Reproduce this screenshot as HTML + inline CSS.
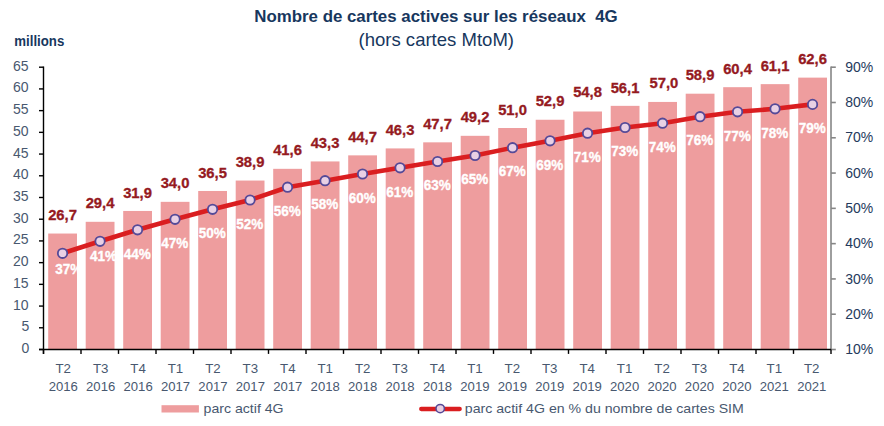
<!DOCTYPE html><html><head><meta charset="utf-8"><style>html,body{margin:0;padding:0;background:#fff;width:884px;height:426px;overflow:hidden}svg{display:block}text{font-family:"Liberation Sans",sans-serif}</style></head><body>
<svg width="884" height="426" viewBox="0 0 884 426">
<rect width="884" height="426" fill="#fff"/>
<text x="254.3" y="22" font-size="16" font-weight="bold" fill="#17375E" textLength="331.5" lengthAdjust="spacingAndGlyphs">Nombre de cartes actives sur les réseaux</text>
<text x="595.2" y="22" font-size="16" font-weight="bold" fill="#17375E" textLength="22.6" lengthAdjust="spacingAndGlyphs">4G</text>
<text x="358.5" y="45.8" font-size="18.5" fill="#17375E" textLength="155.5" lengthAdjust="spacingAndGlyphs">(hors cartes MtoM)</text>
<text x="14.3" y="45.6" font-size="13.8" font-weight="bold" fill="#17375E" textLength="50" lengthAdjust="spacingAndGlyphs">millions</text>
<rect x="48.20" y="233.54" width="28.80" height="115.96" fill="#EE9D9E"/>
<rect x="85.70" y="221.81" width="28.80" height="127.69" fill="#EE9D9E"/>
<rect x="123.20" y="210.96" width="28.80" height="138.54" fill="#EE9D9E"/>
<rect x="160.70" y="201.84" width="28.80" height="147.66" fill="#EE9D9E"/>
<rect x="198.20" y="190.98" width="28.80" height="158.52" fill="#EE9D9E"/>
<rect x="235.70" y="180.55" width="28.80" height="168.95" fill="#EE9D9E"/>
<rect x="273.20" y="168.83" width="28.80" height="180.67" fill="#EE9D9E"/>
<rect x="310.70" y="161.44" width="28.80" height="188.06" fill="#EE9D9E"/>
<rect x="348.20" y="155.36" width="28.80" height="194.14" fill="#EE9D9E"/>
<rect x="385.70" y="148.42" width="28.80" height="201.08" fill="#EE9D9E"/>
<rect x="423.20" y="142.34" width="28.80" height="207.16" fill="#EE9D9E"/>
<rect x="460.70" y="135.82" width="28.80" height="213.68" fill="#EE9D9E"/>
<rect x="498.20" y="128.00" width="28.80" height="221.50" fill="#EE9D9E"/>
<rect x="535.70" y="119.75" width="28.80" height="229.75" fill="#EE9D9E"/>
<rect x="573.20" y="111.50" width="28.80" height="238.00" fill="#EE9D9E"/>
<rect x="610.70" y="105.85" width="28.80" height="243.65" fill="#EE9D9E"/>
<rect x="648.20" y="101.94" width="28.80" height="247.56" fill="#EE9D9E"/>
<rect x="685.70" y="93.69" width="28.80" height="255.81" fill="#EE9D9E"/>
<rect x="723.20" y="87.18" width="28.80" height="262.32" fill="#EE9D9E"/>
<rect x="760.70" y="84.14" width="28.80" height="265.36" fill="#EE9D9E"/>
<rect x="798.20" y="77.62" width="28.80" height="271.88" fill="#EE9D9E"/>
<line x1="831.00" y1="66.5" x2="831.00" y2="349.5" stroke="#868686" stroke-width="1.6"/>
<line x1="831.00" y1="349.50" x2="835.80" y2="349.50" stroke="#868686" stroke-width="1.6"/>
<text x="845.3" y="354.10" font-size="14.6" fill="#243A5C" textLength="28" lengthAdjust="spacingAndGlyphs">10%</text>
<line x1="831.00" y1="314.21" x2="835.80" y2="314.21" stroke="#868686" stroke-width="1.6"/>
<text x="845.3" y="318.81" font-size="14.6" fill="#243A5C" textLength="28" lengthAdjust="spacingAndGlyphs">20%</text>
<line x1="831.00" y1="278.93" x2="835.80" y2="278.93" stroke="#868686" stroke-width="1.6"/>
<text x="845.3" y="283.53" font-size="14.6" fill="#243A5C" textLength="28" lengthAdjust="spacingAndGlyphs">30%</text>
<line x1="831.00" y1="243.64" x2="835.80" y2="243.64" stroke="#868686" stroke-width="1.6"/>
<text x="845.3" y="248.24" font-size="14.6" fill="#243A5C" textLength="28" lengthAdjust="spacingAndGlyphs">40%</text>
<line x1="831.00" y1="208.35" x2="835.80" y2="208.35" stroke="#868686" stroke-width="1.6"/>
<text x="845.3" y="212.95" font-size="14.6" fill="#243A5C" textLength="28" lengthAdjust="spacingAndGlyphs">50%</text>
<line x1="831.00" y1="173.06" x2="835.80" y2="173.06" stroke="#868686" stroke-width="1.6"/>
<text x="845.3" y="177.66" font-size="14.6" fill="#243A5C" textLength="28" lengthAdjust="spacingAndGlyphs">60%</text>
<line x1="831.00" y1="137.78" x2="835.80" y2="137.78" stroke="#868686" stroke-width="1.6"/>
<text x="845.3" y="142.38" font-size="14.6" fill="#243A5C" textLength="28" lengthAdjust="spacingAndGlyphs">70%</text>
<line x1="831.00" y1="102.49" x2="835.80" y2="102.49" stroke="#868686" stroke-width="1.6"/>
<text x="845.3" y="107.09" font-size="14.6" fill="#243A5C" textLength="28" lengthAdjust="spacingAndGlyphs">80%</text>
<line x1="831.00" y1="67.20" x2="835.80" y2="67.20" stroke="#868686" stroke-width="1.6"/>
<text x="845.3" y="71.80" font-size="14.6" fill="#243A5C" textLength="28" lengthAdjust="spacingAndGlyphs">90%</text>
<line x1="43.5" y1="66.5" x2="43.5" y2="353.9" stroke="#000" stroke-width="1.4"/>
<line x1="39.0" y1="349.5" x2="831.0" y2="349.5" stroke="#000" stroke-width="1.4"/>
<line x1="39.0" y1="349.50" x2="43.5" y2="349.50" stroke="#000" stroke-width="1.4"/>
<text x="21.60" y="353.00" font-size="15.3" fill="#48586F" textLength="7.8" lengthAdjust="spacingAndGlyphs">0</text>
<line x1="39.0" y1="327.78" x2="43.5" y2="327.78" stroke="#000" stroke-width="1.4"/>
<text x="21.60" y="331.28" font-size="15.3" fill="#48586F" textLength="7.8" lengthAdjust="spacingAndGlyphs">5</text>
<line x1="39.0" y1="306.07" x2="43.5" y2="306.07" stroke="#000" stroke-width="1.4"/>
<text x="13.00" y="309.57" font-size="15.3" fill="#48586F" textLength="15.6" lengthAdjust="spacingAndGlyphs">10</text>
<line x1="39.0" y1="284.35" x2="43.5" y2="284.35" stroke="#000" stroke-width="1.4"/>
<text x="13.00" y="287.85" font-size="15.3" fill="#48586F" textLength="15.6" lengthAdjust="spacingAndGlyphs">15</text>
<line x1="39.0" y1="262.64" x2="43.5" y2="262.64" stroke="#000" stroke-width="1.4"/>
<text x="13.00" y="266.14" font-size="15.3" fill="#48586F" textLength="15.6" lengthAdjust="spacingAndGlyphs">20</text>
<line x1="39.0" y1="240.92" x2="43.5" y2="240.92" stroke="#000" stroke-width="1.4"/>
<text x="13.00" y="244.42" font-size="15.3" fill="#48586F" textLength="15.6" lengthAdjust="spacingAndGlyphs">25</text>
<line x1="39.0" y1="219.21" x2="43.5" y2="219.21" stroke="#000" stroke-width="1.4"/>
<text x="13.00" y="222.71" font-size="15.3" fill="#48586F" textLength="15.6" lengthAdjust="spacingAndGlyphs">30</text>
<line x1="39.0" y1="197.49" x2="43.5" y2="197.49" stroke="#000" stroke-width="1.4"/>
<text x="13.00" y="200.99" font-size="15.3" fill="#48586F" textLength="15.6" lengthAdjust="spacingAndGlyphs">35</text>
<line x1="39.0" y1="175.78" x2="43.5" y2="175.78" stroke="#000" stroke-width="1.4"/>
<text x="13.00" y="179.28" font-size="15.3" fill="#48586F" textLength="15.6" lengthAdjust="spacingAndGlyphs">40</text>
<line x1="39.0" y1="154.06" x2="43.5" y2="154.06" stroke="#000" stroke-width="1.4"/>
<text x="13.00" y="157.56" font-size="15.3" fill="#48586F" textLength="15.6" lengthAdjust="spacingAndGlyphs">45</text>
<line x1="39.0" y1="132.35" x2="43.5" y2="132.35" stroke="#000" stroke-width="1.4"/>
<text x="13.00" y="135.85" font-size="15.3" fill="#48586F" textLength="15.6" lengthAdjust="spacingAndGlyphs">50</text>
<line x1="39.0" y1="110.63" x2="43.5" y2="110.63" stroke="#000" stroke-width="1.4"/>
<text x="13.00" y="114.13" font-size="15.3" fill="#48586F" textLength="15.6" lengthAdjust="spacingAndGlyphs">55</text>
<line x1="39.0" y1="88.92" x2="43.5" y2="88.92" stroke="#000" stroke-width="1.4"/>
<text x="13.00" y="92.42" font-size="15.3" fill="#48586F" textLength="15.6" lengthAdjust="spacingAndGlyphs">60</text>
<line x1="39.0" y1="67.20" x2="43.5" y2="67.20" stroke="#000" stroke-width="1.4"/>
<text x="13.00" y="70.70" font-size="15.3" fill="#48586F" textLength="15.6" lengthAdjust="spacingAndGlyphs">65</text>
<line x1="43.50" y1="349.5" x2="43.50" y2="353.9" stroke="#000" stroke-width="1.4"/>
<line x1="81.00" y1="349.5" x2="81.00" y2="353.9" stroke="#000" stroke-width="1.4"/>
<line x1="118.50" y1="349.5" x2="118.50" y2="353.9" stroke="#000" stroke-width="1.4"/>
<line x1="156.00" y1="349.5" x2="156.00" y2="353.9" stroke="#000" stroke-width="1.4"/>
<line x1="193.50" y1="349.5" x2="193.50" y2="353.9" stroke="#000" stroke-width="1.4"/>
<line x1="231.00" y1="349.5" x2="231.00" y2="353.9" stroke="#000" stroke-width="1.4"/>
<line x1="268.50" y1="349.5" x2="268.50" y2="353.9" stroke="#000" stroke-width="1.4"/>
<line x1="306.00" y1="349.5" x2="306.00" y2="353.9" stroke="#000" stroke-width="1.4"/>
<line x1="343.50" y1="349.5" x2="343.50" y2="353.9" stroke="#000" stroke-width="1.4"/>
<line x1="381.00" y1="349.5" x2="381.00" y2="353.9" stroke="#000" stroke-width="1.4"/>
<line x1="418.50" y1="349.5" x2="418.50" y2="353.9" stroke="#000" stroke-width="1.4"/>
<line x1="456.00" y1="349.5" x2="456.00" y2="353.9" stroke="#000" stroke-width="1.4"/>
<line x1="493.50" y1="349.5" x2="493.50" y2="353.9" stroke="#000" stroke-width="1.4"/>
<line x1="531.00" y1="349.5" x2="531.00" y2="353.9" stroke="#000" stroke-width="1.4"/>
<line x1="568.50" y1="349.5" x2="568.50" y2="353.9" stroke="#000" stroke-width="1.4"/>
<line x1="606.00" y1="349.5" x2="606.00" y2="353.9" stroke="#000" stroke-width="1.4"/>
<line x1="643.50" y1="349.5" x2="643.50" y2="353.9" stroke="#000" stroke-width="1.4"/>
<line x1="681.00" y1="349.5" x2="681.00" y2="353.9" stroke="#000" stroke-width="1.4"/>
<line x1="718.50" y1="349.5" x2="718.50" y2="353.9" stroke="#000" stroke-width="1.4"/>
<line x1="756.00" y1="349.5" x2="756.00" y2="353.9" stroke="#000" stroke-width="1.4"/>
<line x1="793.50" y1="349.5" x2="793.50" y2="353.9" stroke="#000" stroke-width="1.4"/>
<line x1="831.00" y1="349.5" x2="831.00" y2="353.9" stroke="#000" stroke-width="1.4"/>
<text x="63.25" y="372.7" font-size="13.3" fill="#48586F" text-anchor="middle">T2</text>
<text x="63.25" y="390.6" font-size="13.3" fill="#48586F" text-anchor="middle" textLength="29.2" lengthAdjust="spacingAndGlyphs">2016</text>
<text x="100.67" y="372.7" font-size="13.3" fill="#48586F" text-anchor="middle">T3</text>
<text x="100.67" y="390.6" font-size="13.3" fill="#48586F" text-anchor="middle" textLength="29.2" lengthAdjust="spacingAndGlyphs">2016</text>
<text x="138.10" y="372.7" font-size="13.3" fill="#48586F" text-anchor="middle">T4</text>
<text x="138.10" y="390.6" font-size="13.3" fill="#48586F" text-anchor="middle" textLength="29.2" lengthAdjust="spacingAndGlyphs">2016</text>
<text x="175.52" y="372.7" font-size="13.3" fill="#48586F" text-anchor="middle">T1</text>
<text x="175.52" y="390.6" font-size="13.3" fill="#48586F" text-anchor="middle" textLength="29.2" lengthAdjust="spacingAndGlyphs">2017</text>
<text x="212.95" y="372.7" font-size="13.3" fill="#48586F" text-anchor="middle">T2</text>
<text x="212.95" y="390.6" font-size="13.3" fill="#48586F" text-anchor="middle" textLength="29.2" lengthAdjust="spacingAndGlyphs">2017</text>
<text x="250.38" y="372.7" font-size="13.3" fill="#48586F" text-anchor="middle">T3</text>
<text x="250.38" y="390.6" font-size="13.3" fill="#48586F" text-anchor="middle" textLength="29.2" lengthAdjust="spacingAndGlyphs">2017</text>
<text x="287.80" y="372.7" font-size="13.3" fill="#48586F" text-anchor="middle">T4</text>
<text x="287.80" y="390.6" font-size="13.3" fill="#48586F" text-anchor="middle" textLength="29.2" lengthAdjust="spacingAndGlyphs">2017</text>
<text x="325.22" y="372.7" font-size="13.3" fill="#48586F" text-anchor="middle">T1</text>
<text x="325.22" y="390.6" font-size="13.3" fill="#48586F" text-anchor="middle" textLength="29.2" lengthAdjust="spacingAndGlyphs">2018</text>
<text x="362.65" y="372.7" font-size="13.3" fill="#48586F" text-anchor="middle">T2</text>
<text x="362.65" y="390.6" font-size="13.3" fill="#48586F" text-anchor="middle" textLength="29.2" lengthAdjust="spacingAndGlyphs">2018</text>
<text x="400.07" y="372.7" font-size="13.3" fill="#48586F" text-anchor="middle">T3</text>
<text x="400.07" y="390.6" font-size="13.3" fill="#48586F" text-anchor="middle" textLength="29.2" lengthAdjust="spacingAndGlyphs">2018</text>
<text x="437.50" y="372.7" font-size="13.3" fill="#48586F" text-anchor="middle">T4</text>
<text x="437.50" y="390.6" font-size="13.3" fill="#48586F" text-anchor="middle" textLength="29.2" lengthAdjust="spacingAndGlyphs">2018</text>
<text x="474.92" y="372.7" font-size="13.3" fill="#48586F" text-anchor="middle">T1</text>
<text x="474.92" y="390.6" font-size="13.3" fill="#48586F" text-anchor="middle" textLength="29.2" lengthAdjust="spacingAndGlyphs">2019</text>
<text x="512.35" y="372.7" font-size="13.3" fill="#48586F" text-anchor="middle">T2</text>
<text x="512.35" y="390.6" font-size="13.3" fill="#48586F" text-anchor="middle" textLength="29.2" lengthAdjust="spacingAndGlyphs">2019</text>
<text x="549.77" y="372.7" font-size="13.3" fill="#48586F" text-anchor="middle">T3</text>
<text x="549.77" y="390.6" font-size="13.3" fill="#48586F" text-anchor="middle" textLength="29.2" lengthAdjust="spacingAndGlyphs">2019</text>
<text x="587.20" y="372.7" font-size="13.3" fill="#48586F" text-anchor="middle">T4</text>
<text x="587.20" y="390.6" font-size="13.3" fill="#48586F" text-anchor="middle" textLength="29.2" lengthAdjust="spacingAndGlyphs">2019</text>
<text x="624.62" y="372.7" font-size="13.3" fill="#48586F" text-anchor="middle">T1</text>
<text x="624.62" y="390.6" font-size="13.3" fill="#48586F" text-anchor="middle" textLength="29.2" lengthAdjust="spacingAndGlyphs">2020</text>
<text x="662.05" y="372.7" font-size="13.3" fill="#48586F" text-anchor="middle">T2</text>
<text x="662.05" y="390.6" font-size="13.3" fill="#48586F" text-anchor="middle" textLength="29.2" lengthAdjust="spacingAndGlyphs">2020</text>
<text x="699.47" y="372.7" font-size="13.3" fill="#48586F" text-anchor="middle">T3</text>
<text x="699.47" y="390.6" font-size="13.3" fill="#48586F" text-anchor="middle" textLength="29.2" lengthAdjust="spacingAndGlyphs">2020</text>
<text x="736.90" y="372.7" font-size="13.3" fill="#48586F" text-anchor="middle">T4</text>
<text x="736.90" y="390.6" font-size="13.3" fill="#48586F" text-anchor="middle" textLength="29.2" lengthAdjust="spacingAndGlyphs">2020</text>
<text x="774.32" y="372.7" font-size="13.3" fill="#48586F" text-anchor="middle">T1</text>
<text x="774.32" y="390.6" font-size="13.3" fill="#48586F" text-anchor="middle" textLength="29.2" lengthAdjust="spacingAndGlyphs">2021</text>
<text x="811.75" y="372.7" font-size="13.3" fill="#48586F" text-anchor="middle">T2</text>
<text x="811.75" y="390.6" font-size="13.3" fill="#48586F" text-anchor="middle" textLength="29.2" lengthAdjust="spacingAndGlyphs">2021</text>
<text x="62.55" y="220.14" font-size="14" font-weight="bold" fill="#951A1F" stroke="#951A1F" stroke-width="0.3" text-anchor="middle" textLength="28.8" lengthAdjust="spacingAndGlyphs">26,7</text>
<text x="100.05" y="208.41" font-size="14" font-weight="bold" fill="#951A1F" stroke="#951A1F" stroke-width="0.3" text-anchor="middle" textLength="28.8" lengthAdjust="spacingAndGlyphs">29,4</text>
<text x="137.55" y="197.56" font-size="14" font-weight="bold" fill="#951A1F" stroke="#951A1F" stroke-width="0.3" text-anchor="middle" textLength="28.8" lengthAdjust="spacingAndGlyphs">31,9</text>
<text x="175.05" y="188.44" font-size="14" font-weight="bold" fill="#951A1F" stroke="#951A1F" stroke-width="0.3" text-anchor="middle" textLength="28.8" lengthAdjust="spacingAndGlyphs">34,0</text>
<text x="212.55" y="177.58" font-size="14" font-weight="bold" fill="#951A1F" stroke="#951A1F" stroke-width="0.3" text-anchor="middle" textLength="28.8" lengthAdjust="spacingAndGlyphs">36,5</text>
<text x="250.05" y="167.15" font-size="14" font-weight="bold" fill="#951A1F" stroke="#951A1F" stroke-width="0.3" text-anchor="middle" textLength="28.8" lengthAdjust="spacingAndGlyphs">38,9</text>
<text x="287.55" y="155.43" font-size="14" font-weight="bold" fill="#951A1F" stroke="#951A1F" stroke-width="0.3" text-anchor="middle" textLength="28.8" lengthAdjust="spacingAndGlyphs">41,6</text>
<text x="325.05" y="148.04" font-size="14" font-weight="bold" fill="#951A1F" stroke="#951A1F" stroke-width="0.3" text-anchor="middle" textLength="28.8" lengthAdjust="spacingAndGlyphs">43,3</text>
<text x="362.55" y="141.96" font-size="14" font-weight="bold" fill="#951A1F" stroke="#951A1F" stroke-width="0.3" text-anchor="middle" textLength="28.8" lengthAdjust="spacingAndGlyphs">44,7</text>
<text x="400.05" y="135.02" font-size="14" font-weight="bold" fill="#951A1F" stroke="#951A1F" stroke-width="0.3" text-anchor="middle" textLength="28.8" lengthAdjust="spacingAndGlyphs">46,3</text>
<text x="437.55" y="128.94" font-size="14" font-weight="bold" fill="#951A1F" stroke="#951A1F" stroke-width="0.3" text-anchor="middle" textLength="28.8" lengthAdjust="spacingAndGlyphs">47,7</text>
<text x="475.05" y="122.42" font-size="14" font-weight="bold" fill="#951A1F" stroke="#951A1F" stroke-width="0.3" text-anchor="middle" textLength="28.8" lengthAdjust="spacingAndGlyphs">49,2</text>
<text x="512.55" y="114.60" font-size="14" font-weight="bold" fill="#951A1F" stroke="#951A1F" stroke-width="0.3" text-anchor="middle" textLength="28.8" lengthAdjust="spacingAndGlyphs">51,0</text>
<text x="550.05" y="106.35" font-size="14" font-weight="bold" fill="#951A1F" stroke="#951A1F" stroke-width="0.3" text-anchor="middle" textLength="28.8" lengthAdjust="spacingAndGlyphs">52,9</text>
<text x="587.55" y="97.30" font-size="14" font-weight="bold" fill="#951A1F" stroke="#951A1F" stroke-width="0.3" text-anchor="middle" textLength="28.8" lengthAdjust="spacingAndGlyphs">54,8</text>
<text x="625.05" y="93.45" font-size="14" font-weight="bold" fill="#951A1F" stroke="#951A1F" stroke-width="0.3" text-anchor="middle" textLength="28.8" lengthAdjust="spacingAndGlyphs">56,1</text>
<text x="663.95" y="87.84" font-size="14" font-weight="bold" fill="#951A1F" stroke="#951A1F" stroke-width="0.3" text-anchor="middle" textLength="28.8" lengthAdjust="spacingAndGlyphs">57,0</text>
<text x="700.05" y="80.29" font-size="14" font-weight="bold" fill="#951A1F" stroke="#951A1F" stroke-width="0.3" text-anchor="middle" textLength="28.8" lengthAdjust="spacingAndGlyphs">58,9</text>
<text x="737.55" y="73.78" font-size="14" font-weight="bold" fill="#951A1F" stroke="#951A1F" stroke-width="0.3" text-anchor="middle" textLength="28.8" lengthAdjust="spacingAndGlyphs">60,4</text>
<text x="775.05" y="70.74" font-size="14" font-weight="bold" fill="#951A1F" stroke="#951A1F" stroke-width="0.3" text-anchor="middle" textLength="28.8" lengthAdjust="spacingAndGlyphs">61,1</text>
<text x="812.55" y="64.22" font-size="14" font-weight="bold" fill="#951A1F" stroke="#951A1F" stroke-width="0.3" text-anchor="middle" textLength="28.8" lengthAdjust="spacingAndGlyphs">62,6</text>
<polyline points="62.55,253.30 100.05,241.30 137.55,229.80 175.05,219.30 212.55,209.30 250.05,200.00 287.55,187.20 325.05,180.70 362.55,174.00 400.05,167.80 437.55,161.50 475.05,155.50 512.55,147.70 550.05,140.80 587.55,133.20 625.05,127.50 662.55,123.20 700.05,116.70 737.55,111.80 775.05,108.80 812.55,104.40" fill="none" stroke="#DA1E20" stroke-width="4.6" stroke-linejoin="round" stroke-linecap="round"/>
<circle cx="62.55" cy="253.30" r="4.7" fill="#E9D0E4" stroke="#554A98" stroke-width="1.8"/>
<circle cx="100.05" cy="241.30" r="4.7" fill="#E9D0E4" stroke="#554A98" stroke-width="1.8"/>
<circle cx="137.55" cy="229.80" r="4.7" fill="#E9D0E4" stroke="#554A98" stroke-width="1.8"/>
<circle cx="175.05" cy="219.30" r="4.7" fill="#E9D0E4" stroke="#554A98" stroke-width="1.8"/>
<circle cx="212.55" cy="209.30" r="4.7" fill="#E9D0E4" stroke="#554A98" stroke-width="1.8"/>
<circle cx="250.05" cy="200.00" r="4.7" fill="#E9D0E4" stroke="#554A98" stroke-width="1.8"/>
<circle cx="287.55" cy="187.20" r="4.7" fill="#E9D0E4" stroke="#554A98" stroke-width="1.8"/>
<circle cx="325.05" cy="180.70" r="4.7" fill="#E9D0E4" stroke="#554A98" stroke-width="1.8"/>
<circle cx="362.55" cy="174.00" r="4.7" fill="#E9D0E4" stroke="#554A98" stroke-width="1.8"/>
<circle cx="400.05" cy="167.80" r="4.7" fill="#E9D0E4" stroke="#554A98" stroke-width="1.8"/>
<circle cx="437.55" cy="161.50" r="4.7" fill="#E9D0E4" stroke="#554A98" stroke-width="1.8"/>
<circle cx="475.05" cy="155.50" r="4.7" fill="#E9D0E4" stroke="#554A98" stroke-width="1.8"/>
<circle cx="512.55" cy="147.70" r="4.7" fill="#E9D0E4" stroke="#554A98" stroke-width="1.8"/>
<circle cx="550.05" cy="140.80" r="4.7" fill="#E9D0E4" stroke="#554A98" stroke-width="1.8"/>
<circle cx="587.55" cy="133.20" r="4.7" fill="#E9D0E4" stroke="#554A98" stroke-width="1.8"/>
<circle cx="625.05" cy="127.50" r="4.7" fill="#E9D0E4" stroke="#554A98" stroke-width="1.8"/>
<circle cx="662.55" cy="123.20" r="4.7" fill="#E9D0E4" stroke="#554A98" stroke-width="1.8"/>
<circle cx="700.05" cy="116.70" r="4.7" fill="#E9D0E4" stroke="#554A98" stroke-width="1.8"/>
<circle cx="737.55" cy="111.80" r="4.7" fill="#E9D0E4" stroke="#554A98" stroke-width="1.8"/>
<circle cx="775.05" cy="108.80" r="4.7" fill="#E9D0E4" stroke="#554A98" stroke-width="1.8"/>
<circle cx="812.55" cy="104.40" r="4.7" fill="#E9D0E4" stroke="#554A98" stroke-width="1.8"/>
<text x="68.65" y="273.90" font-size="14.5" font-weight="bold" fill="#fff" stroke="#fff" stroke-width="0.35" text-anchor="middle" textLength="27" lengthAdjust="spacingAndGlyphs">37%</text>
<text x="103.55" y="260.70" font-size="14.5" font-weight="bold" fill="#fff" stroke="#fff" stroke-width="0.35" text-anchor="middle" textLength="27" lengthAdjust="spacingAndGlyphs">41%</text>
<text x="137.25" y="258.50" font-size="14.5" font-weight="bold" fill="#fff" stroke="#fff" stroke-width="0.35" text-anchor="middle" textLength="27" lengthAdjust="spacingAndGlyphs">44%</text>
<text x="174.75" y="248.00" font-size="14.5" font-weight="bold" fill="#fff" stroke="#fff" stroke-width="0.35" text-anchor="middle" textLength="27" lengthAdjust="spacingAndGlyphs">47%</text>
<text x="212.25" y="238.00" font-size="14.5" font-weight="bold" fill="#fff" stroke="#fff" stroke-width="0.35" text-anchor="middle" textLength="27" lengthAdjust="spacingAndGlyphs">50%</text>
<text x="249.75" y="228.70" font-size="14.5" font-weight="bold" fill="#fff" stroke="#fff" stroke-width="0.35" text-anchor="middle" textLength="27" lengthAdjust="spacingAndGlyphs">52%</text>
<text x="287.25" y="215.90" font-size="14.5" font-weight="bold" fill="#fff" stroke="#fff" stroke-width="0.35" text-anchor="middle" textLength="27" lengthAdjust="spacingAndGlyphs">56%</text>
<text x="324.75" y="209.40" font-size="14.5" font-weight="bold" fill="#fff" stroke="#fff" stroke-width="0.35" text-anchor="middle" textLength="27" lengthAdjust="spacingAndGlyphs">58%</text>
<text x="362.25" y="202.70" font-size="14.5" font-weight="bold" fill="#fff" stroke="#fff" stroke-width="0.35" text-anchor="middle" textLength="27" lengthAdjust="spacingAndGlyphs">60%</text>
<text x="399.75" y="196.50" font-size="14.5" font-weight="bold" fill="#fff" stroke="#fff" stroke-width="0.35" text-anchor="middle" textLength="27" lengthAdjust="spacingAndGlyphs">61%</text>
<text x="437.25" y="190.20" font-size="14.5" font-weight="bold" fill="#fff" stroke="#fff" stroke-width="0.35" text-anchor="middle" textLength="27" lengthAdjust="spacingAndGlyphs">63%</text>
<text x="474.75" y="184.20" font-size="14.5" font-weight="bold" fill="#fff" stroke="#fff" stroke-width="0.35" text-anchor="middle" textLength="27" lengthAdjust="spacingAndGlyphs">65%</text>
<text x="512.25" y="176.40" font-size="14.5" font-weight="bold" fill="#fff" stroke="#fff" stroke-width="0.35" text-anchor="middle" textLength="27" lengthAdjust="spacingAndGlyphs">67%</text>
<text x="549.75" y="169.50" font-size="14.5" font-weight="bold" fill="#fff" stroke="#fff" stroke-width="0.35" text-anchor="middle" textLength="27" lengthAdjust="spacingAndGlyphs">69%</text>
<text x="587.25" y="161.90" font-size="14.5" font-weight="bold" fill="#fff" stroke="#fff" stroke-width="0.35" text-anchor="middle" textLength="27" lengthAdjust="spacingAndGlyphs">71%</text>
<text x="624.75" y="156.20" font-size="14.5" font-weight="bold" fill="#fff" stroke="#fff" stroke-width="0.35" text-anchor="middle" textLength="27" lengthAdjust="spacingAndGlyphs">73%</text>
<text x="662.25" y="151.90" font-size="14.5" font-weight="bold" fill="#fff" stroke="#fff" stroke-width="0.35" text-anchor="middle" textLength="27" lengthAdjust="spacingAndGlyphs">74%</text>
<text x="699.75" y="145.40" font-size="14.5" font-weight="bold" fill="#fff" stroke="#fff" stroke-width="0.35" text-anchor="middle" textLength="27" lengthAdjust="spacingAndGlyphs">76%</text>
<text x="737.25" y="140.50" font-size="14.5" font-weight="bold" fill="#fff" stroke="#fff" stroke-width="0.35" text-anchor="middle" textLength="27" lengthAdjust="spacingAndGlyphs">77%</text>
<text x="774.75" y="137.50" font-size="14.5" font-weight="bold" fill="#fff" stroke="#fff" stroke-width="0.35" text-anchor="middle" textLength="27" lengthAdjust="spacingAndGlyphs">78%</text>
<text x="812.25" y="133.10" font-size="14.5" font-weight="bold" fill="#fff" stroke="#fff" stroke-width="0.35" text-anchor="middle" textLength="27" lengthAdjust="spacingAndGlyphs">79%</text>
<rect x="161.5" y="405.2" width="37.4" height="7.3" fill="#EE9D9E"/>
<text x="203.6" y="412.5" font-size="13" fill="#48586F" textLength="80" lengthAdjust="spacingAndGlyphs">parc actif 4G</text>
<line x1="421.2" y1="409" x2="459.7" y2="409" stroke="#DA1E20" stroke-width="4.3" stroke-linecap="round"/>
<circle cx="440.2" cy="408.6" r="4.2" fill="#E9D0E4" stroke="#554A98" stroke-width="1.5"/>
<text x="464.8" y="412.5" font-size="13" fill="#48586F" textLength="279" lengthAdjust="spacingAndGlyphs">parc actif 4G en % du nombre de cartes SIM</text>
</svg></body></html>
